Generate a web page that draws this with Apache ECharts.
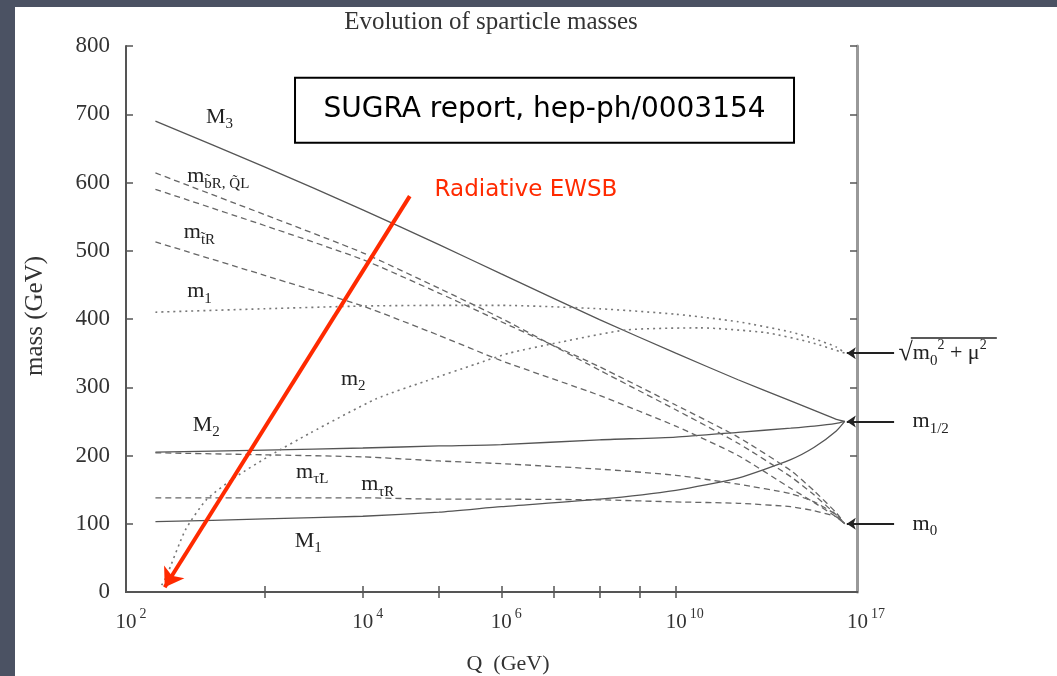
<!DOCTYPE html>
<html><head><meta charset="utf-8">
<script src="https://cdn.jsdelivr.net/npm/echarts@6/dist/echarts.min.js"></script>
<style>
html,body{margin:0;padding:0;width:1057px;height:676px;overflow:hidden;background:#4b5263;}
#panel{position:absolute;left:15px;top:7px;right:0;bottom:0;background:#fff;}
#chart{position:absolute;left:0;top:0;width:1057px;height:676px;}
</style></head><body>
<div id="panel"></div><div id="chart"></div>
<script>
// ---- data: x = log10(Q/GeV), y = mass (GeV) ----
const qExp   = [2.18, 3, 4, 5, 6, 8, 10, 12, 14, 15, 16, 16.4];
const M3     = [690, 623, 560, 509, 466, 399, 350, 311, 280, 266, 253, 250];
const M2     = [205, 208, 211, 214, 216, 223, 227, 234, 240, 243, 247, 250];
const M1     = [103, 107, 111, 117, 125, 136, 149, 167, 194, 212, 236, 250];
const mbR    = [614, 553, 497, 445, 401, 325, 267, 218, 169, 142, 113, 100];
const mQL    = [590, 537, 487, 438, 396, 330, 274, 227, 178, 148, 116, 100];
const mtR    = [513, 464, 419, 376, 339, 288, 243, 200, 152, 131, 110, 100];
const m1     = [410, 415, 419, 420, 420, 415, 407, 396, 381, 371, 359, 350];
const mtauL  = [204, 201, 198, 192, 188, 180, 171, 158, 144, 132, 113, 100];
const mtauR  = [138, 138, 138, 136, 136, 135, 132, 130, 125, 119, 110, 100];
const qExpM2 = [2.22, 2.25, 2.38, 2.53, 2.76, 3.05, 3.43, 4.16, 4.81, 5.57, 6.14, 7.13, 8.65, 10.74, 13.02, 14.81, 16.4];
const m2     = [10, 22, 91, 135, 169, 200, 233, 283, 309, 334, 350, 366, 384, 387, 380, 366, 350];

const xLabelExp = [2, 4, 6, 10, 17];
const xTickExp  = [3, 4, 5, 6, 7, 8, 9, 10];

// curve labels
const curveLabelText = ['{b|M}{s|3}', '{b|m}{s|b̃R, Q̃L}', '{b|m}{s|t̃R}', '{b|m}{s|1}', '{b|m}{s|2}', '{b|M}{s|2}', '{b|m}{s|τ̃L}', '{b|m}{s|τ̃R}', '{b|M}{s|1}'];
const curveLabelQ    = [2.63, 2.62, 2.48, 2.48, 3.89, 2.53, 3.45, 4.18, 3.41];
const curveLabelMass = [696, 609, 527, 440, 312, 245, 176, 158, 75];

// boundary conditions at the GUT scale
const bcMass  = [350, 250, 100];
const bcText  = ['{r|√}{b|m}{s|0}{p|2}{b| + μ}{p|2}', '{b|m}{s|1/2}', '{b|m}{s|0}'];
const bcLabelQ = [19.2, 20.0, 20.0];
const bcArrowFrom = 18.95, bcArrowTo = 16.5;

// annotations
const ewsbArrow = [[4.59, 580], [2.24, 7]];
const ewsbTextPos = [6.45, 589];
const boxPos = [6.81, 706];

const SERIF = '"Liberation Serif","DejaVu Serif",serif';
const SANS = '"DejaVu Sans",sans-serif';
const L = Math.log10;
const pts = (xs, ys) => xs.map((q, i) => [L(q), ys[i]]);

const rich = {
  b: {fontFamily: SERIF, fontSize: 22, color: '#222', lineHeight: 30, verticalAlign: 'middle'},
  r: {fontFamily: SERIF, fontSize: 26, color: '#222', lineHeight: 30, verticalAlign: 'middle'},
  s: {fontFamily: SERIF, fontSize: 15, color: '#222', lineHeight: 14, verticalAlign: 'bottom'},
  p: {fontFamily: SERIF, fontSize: 14, color: '#222', lineHeight: 14, verticalAlign: 'top'}
};

function curve(name, xs, ys, type, color, width) {
  return {name, type: 'line', data: pts(xs, ys), showSymbol: false, symbol: 'none',
    smooth: 0.2, silent: true, z: 2,
    lineStyle: {color, width: width || 1.3, type}};
}

const chart = echarts.init(document.getElementById('chart'), null, {renderer: 'canvas'});
const option = {
  animation: false,
  backgroundColor: 'transparent',
  grid: {left: 126, top: 46, right: 200, bottom: 84, containLabel: false},
  xAxis: [{
    type: 'value', position: 'bottom', min: L(2), max: L(17),
    axisLine: {lineStyle: {color: '#555', width: 2}},
    axisTick: {inside: true, length: 6, customValues: xTickExp.map(L), lineStyle: {color: '#555', width: 1.5}},
    splitLine: {show: false},
    axisLabel: {
      customValues: xLabelExp.map(L), margin: 15, hideOverlap: false,
      formatter: v => { const e = Math.round(Math.pow(10, v)); return '{sp' + (e >= 10 ? '2' : '1') + '|}{b|10}{p|' + e + '}'; },
      rich: {
        b: {fontFamily: SERIF, fontSize: 21, color: '#333', lineHeight: 30, verticalAlign: 'middle'},
        p: {fontFamily: SERIF, fontSize: 14, color: '#333', lineHeight: 14, verticalAlign: 'top', padding: [0, 0, 0, 3]},
        sp1: {width: 10}, sp2: {width: 18}
      }
    }
  }, {
    type: 'value', position: 'top', min: L(2), max: L(17),
    axisLine: {lineStyle: {color: '#555', width: 2}},
    axisTick: {inside: true, length: 6, customValues: xTickExp.map(L), lineStyle: {color: '#555', width: 1.5}},
    axisLabel: {show: false}, splitLine: {show: false}
  }],
  yAxis: [{
    type: 'value', position: 'left', min: 0, max: 800, interval: 100,
    axisLine: {show: true, lineStyle: {color: '#555', width: 2}},
    axisTick: {show: true, inside: true, length: 7, lineStyle: {color: '#555', width: 1.5}},
    splitLine: {show: false},
    axisLabel: {fontFamily: SERIF, fontSize: 23, color: '#333', margin: 16}
  }, {
    type: 'value', position: 'right', min: 0, max: 800, interval: 100,
    axisLine: {show: true, lineStyle: {color: '#999', width: 3}},
    axisTick: {show: true, inside: true, length: 7, lineStyle: {color: '#555', width: 1.5}},
    splitLine: {show: false}, axisLabel: {show: false}
  }],
  graphic: [
    {type: 'text', x: 491, y: 22, style: {text: 'Evolution of sparticle masses', font: '25px ' + SERIF, fill: '#333', align: 'center', verticalAlign: 'middle'}},
    {type: 'text', x: 35, y: 316, rotation: Math.PI / 2, style: {text: 'mass (GeV)', font: '25px ' + SERIF, fill: '#333', align: 'center', verticalAlign: 'middle'}},
    {type: 'text', x: 508, y: 664, style: {text: 'Q  (GeV)', font: '22px ' + SERIF, fill: '#333', align: 'center', verticalAlign: 'middle'}}
  ],
  series: [
    curve('M3', qExp, M3, 'solid', '#555'),
    curve('M2', qExp, M2, 'solid', '#555'),
    curve('M1', qExp, M1, 'solid', '#555'),
    curve('mbR', qExp, mbR, [6, 4], '#666'),
    curve('mQL', qExp, mQL, [6, 4], '#666'),
    curve('mtR', qExp, mtR, [6, 4], '#666'),
    curve('mtauL', qExp, mtauL, [6, 4], '#666'),
    curve('mtauR', qExp, mtauR, [6, 4], '#666'),
    curve('m1', qExp, m1, [2, 4], '#777', 1.6),
    curve('m2', qExpM2, m2, [2, 4], '#777', 1.6),
    {
      type: 'scatter', symbolSize: 0, clip: false, silent: true, z: 5, itemStyle: {opacity: 1},
      data: curveLabelText.map((t, i) => ({value: [L(curveLabelQ[i]), curveLabelMass[i]],
        label: {show: true, position: 'inside', formatter: t, rich}}))
    },
    {
      type: 'scatter', symbolSize: 0, clip: false, silent: true, z: 5, itemStyle: {opacity: 1},
      data: bcText.map((t, i) => ({value: [L(bcLabelQ[i]), bcMass[i]],
        label: {show: true, position: 'right', distance: 0, formatter: t, rich}}))
    },
    {
      type: 'lines', coordinateSystem: 'cartesian2d', clip: false, silent: true, z: 6,
      symbol: ['none', 'arrow'], symbolSize: 9,
      lineStyle: {color: '#222', width: 2, opacity: 1, curveness: 0},
      data: bcMass.map(m => ({coords: [[L(bcArrowFrom), m], [L(bcArrowTo), m]]}))
    },
    {
      type: 'lines', coordinateSystem: 'cartesian2d', clip: false, silent: true, z: 6,
      symbol: ['none', 'none'],
      lineStyle: {color: '#222', width: 1.5, opacity: 1, curveness: 0},
      data: [{coords: [[L(19.9), 373], [L(25.6), 373]]}]
    },
    {
      type: 'lines', coordinateSystem: 'cartesian2d', clip: false, silent: true, z: 8,
      symbol: ['none', 'arrow'], symbolSize: 18,
      lineStyle: {color: '#ff2a00', width: 4, opacity: 1, curveness: 0},
      data: [{coords: ewsbArrow.map(p => [L(p[0]), p[1]])}]
    },
    {
      type: 'scatter', symbolSize: 0, clip: false, silent: true, z: 9, itemStyle: {opacity: 1},
      data: [
        {value: [L(ewsbTextPos[0]), ewsbTextPos[1]], label: {show: true, position: 'inside', formatter: 'Radiative EWSB', fontFamily: SANS, fontSize: 23, color: '#ff2a00'}},
        {value: [L(boxPos[0]), boxPos[1]], label: {show: true, position: 'inside', formatter: 'SUGRA report, hep-ph/0003154', fontFamily: SANS, fontSize: 28, color: '#000',
          backgroundColor: '#fff', borderColor: '#000', borderWidth: 2, width: 497, height: 63, lineHeight: 63, align: 'center', verticalAlign: 'middle', textBorderWidth: 0}}
      ]
    }
  ]
};
chart.setOption(option);
</script>
</body></html>
